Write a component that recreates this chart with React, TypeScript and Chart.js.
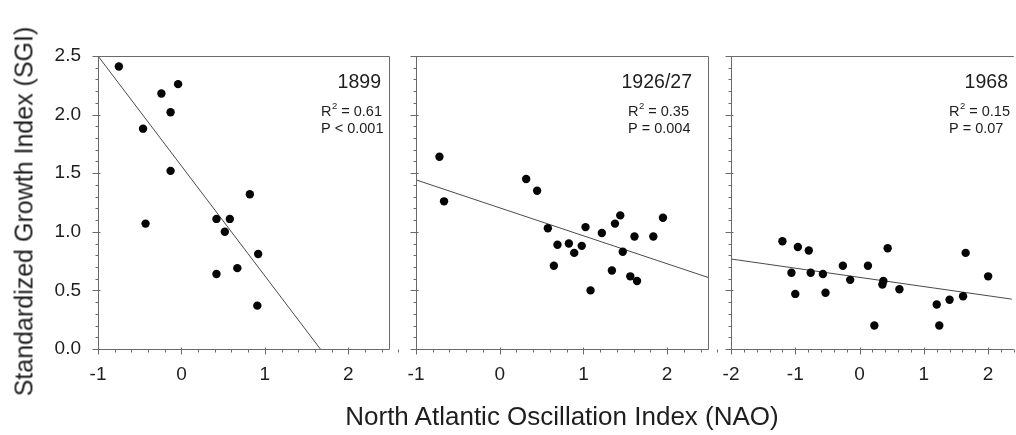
import React, { useEffect, useRef } from "react";
import { Chart, registerables } from "chart.js";

Chart.register(...registerables);

// ---------- data ----------
const Y_TICKS = [0, 0.5, 1.0, 1.5, 2.0, 2.5];
const X_TICKS_AB = [-1, 0, 1, 2];
const X_TICKS_C = [-2, -1, 0, 1, 2];

const NAO_1899 = [-0.75, -0.04, -0.24, -0.13, -0.46, -0.13, -0.43, 0.82, 0.42, 0.58, 0.52, 0.92, 0.67, 0.42, 0.91];
const SGI_1899 = [2.41, 2.26, 2.18, 2.02, 1.88, 1.52, 1.07, 1.32, 1.11, 1.11, 1.0, 0.81, 0.69, 0.64, 0.37];
const FIT_1899_X = [-1, 1.665];
const FIT_1899_Y = [2.5, 0];

const NAO_1926 = [-0.72, -0.665, 0.316, 0.447, 0.575, 0.69, 0.647, 0.826, 0.89, 0.98, 1.025, 1.085, 1.22, 1.377, 1.44, 1.47, 1.34, 1.56, 1.64, 1.61, 1.835, 1.95];
const SGI_1926 = [1.64, 1.26, 1.45, 1.35, 1.03, 0.89, 0.71, 0.9, 0.82, 0.88, 1.04, 0.5, 0.99, 1.07, 1.14, 0.83, 0.67, 0.62, 0.58, 0.96, 0.96, 1.12];
const FIT_1926_X = [-1, 2.5];
const FIT_1926_Y = [1.443, 0.608];

const NAO_1968 = [-1.2, -0.96, -0.79, -1.06, -1.0, -0.76, -0.57, -0.53, -0.26, -0.146, 0.13, 0.23, 0.37, 0.355, 0.437, 0.62, 1.2, 1.24, 1.4, 1.61, 1.65, 2.0];
const SGI_1968 = [0.92, 0.87, 0.84, 0.65, 0.47, 0.65, 0.64, 0.48, 0.71, 0.59, 0.71, 0.2, 0.58, 0.55, 0.86, 0.51, 0.38, 0.2, 0.42, 0.45, 0.82, 0.62];
const FIT_1968_X = [-2, 2.5];
const FIT_1968_Y = [0.768, 0.415];

const YEAR_LABELS = ["1899", "1926/27", "1968"];
const R2_VALUES = ["0.61", "0.35", "0.15"];
const P_LABELS = ["P < 0.001", "P = 0.004", "P = 0.07"];
const Y_TITLE = "Standardized Growth Index (SGI)";
const X_TITLE = "North Atlantic Oscillation Index (NAO)";

// ---------- layout / style ----------
const W = 1016;
const H = 435;
const TOP = 56;
const BOTTOM = 349;
const Y_AXIS_W = 60;
const X_AXIS_H = 50;
const FONT = "'Liberation Sans', Arial, sans-serif";
const FRAME = "#6a6a6a";
const TEXT = "#1e1e1e";

type Panel = {
  left: number;
  right: number;
  xMin: number;
  xMax: number;
  xTicks: number[];
  nao: number[];
  sgi: number[];
  fitX: number[];
  fitY: number[];
  showYLabels: boolean;
  drawRight: boolean;
  yearRight: number;
  statsLeft: number;
  idx: number;
};

const PANELS: Panel[] = [
  { left: 98, right: 390, xMin: -1, xMax: 2.5, xTicks: X_TICKS_AB, nao: NAO_1899, sgi: SGI_1899, fitX: FIT_1899_X, fitY: FIT_1899_Y, showYLabels: true, drawRight: true, yearRight: 381, statsLeft: 321, idx: 0 },
  { left: 416, right: 709, xMin: -1, xMax: 2.5, xTicks: X_TICKS_AB, nao: NAO_1926, sgi: SGI_1926, fitX: FIT_1926_X, fitY: FIT_1926_Y, showYLabels: false, drawRight: true, yearRight: 692, statsLeft: 628, idx: 1 },
  { left: 731, right: 1016, xMin: -2, xMax: 2.368, xTicks: X_TICKS_C, nao: NAO_1968, sgi: SGI_1968, fitX: FIT_1968_X, fitY: FIT_1968_Y, showYLabels: false, drawRight: false, yearRight: 1008, statsLeft: 949, idx: 2 },
];

const framePlugin = {
  id: "frameTicks",
  afterDatasetsDraw(chart: any, _args: any, opts: any) {
    const p: Panel = opts.panel;
    const ctx = chart.ctx;
    const xs = chart.scales.x;
    const ys = chart.scales.y;
    const { left, right, top, bottom } = chart.chartArea;
    const L = Math.round(left) + 0.5;
    const R = Math.round(right) - 0.5;
    const T = Math.round(top) + 0.5;
    const B = Math.round(bottom) + 0.5;
    ctx.save();
    ctx.strokeStyle = FRAME;
    ctx.lineWidth = 1;
    ctx.beginPath();
    ctx.moveTo(L, B);
    ctx.lineTo(L, T);
    ctx.lineTo(p.drawRight ? R : right + 2, T);
    if (p.drawRight) {
      ctx.lineTo(R, B);
    }
    ctx.moveTo(L, B);
    ctx.lineTo(p.drawRight ? R : right + 2, B);
    // x ticks
    const nX = Math.round((p.xMax - p.xMin) / 0.2 + 1e-6);
    for (let i = 0; i <= nX; i++) {
      const v = p.xMin + i * 0.2;
      const major = Math.abs(v - Math.round(v)) < 1e-6;
      const px = Math.round(xs.getPixelForValue(v)) + 0.5;
      ctx.moveTo(px, B + (major ? -2 : 0));
      ctx.lineTo(px, B + (major ? 5 : 3));
    }
    // y ticks
    for (let i = 0; i <= 25; i++) {
      const v = i * 0.1;
      const major = i % 5 === 0;
      const py = Math.round(ys.getPixelForValue(v)) + 0.5;
      ctx.moveTo(L + (major ? 2 : 0), py);
      ctx.lineTo(L - (major ? 6 : 3), py);
    }
    ctx.stroke();

    // annotations
    ctx.fillStyle = TEXT;
    ctx.textBaseline = "alphabetic";
    ctx.font = `19.5px ${FONT}`;
    ctx.textAlign = "right";
    ctx.fillText(YEAR_LABELS[p.idx], p.yearRight, 88);

    ctx.textAlign = "left";
    ctx.font = `14.5px ${FONT}`;
    let x = p.statsLeft;
    ctx.fillText("R", x, 116);
    x += ctx.measureText("R").width;
    ctx.font = `9.5px ${FONT}`;
    ctx.fillText("2", x + 0.5, 109);
    x += ctx.measureText("2").width + 0.5;
    ctx.font = `14.5px ${FONT}`;
    ctx.fillText(" = " + R2_VALUES[p.idx], x, 116);
    ctx.fillText(P_LABELS[p.idx], p.statsLeft, 133);
    ctx.restore();
  },
};

function PanelChart({ panel }: { panel: Panel }) {
  const ref = useRef<HTMLCanvasElement | null>(null);
  useEffect(() => {
    if (!ref.current) return;
    const points = panel.nao.map((x, i) => ({ x, y: panel.sgi[i] }));
    const fit = panel.fitX.map((x, i) => ({ x, y: panel.fitY[i] }));
    const chart = new Chart(ref.current, {
      type: "scatter",
      data: {
        datasets: [
          {
            data: points,
            backgroundColor: "#050505",
            borderWidth: 0,
            pointRadius: 4.2,
            pointHoverRadius: 4.2,
          },
          {
            data: fit,
            showLine: true,
            borderColor: "#4a4a4a",
            borderWidth: 1,
            pointRadius: 0,
            pointHoverRadius: 0,
            fill: false,
          } as any,
        ],
      },
      options: {
        animation: false,
        responsive: false,
        devicePixelRatio: 1,
        events: [],
        layout: {
          padding: {
            left: panel.left - Y_AXIS_W,
            right: W - panel.right,
            top: TOP,
            bottom: H - BOTTOM - X_AXIS_H,
          },
        },
        plugins: {
          legend: { display: false },
          tooltip: { enabled: false },
          title: { display: false },
          frameTicks: { panel },
        } as any,
        scales: {
          x: {
            type: "linear",
            min: panel.xMin,
            max: panel.xMax,
            afterBuildTicks: (s: any) => {
              s.ticks = panel.xTicks.map((v) => ({ value: v }));
            },
            afterFit: (s: any) => {
              s.height = X_AXIS_H;
            },
            grid: { display: false, drawTicks: false },
            border: { display: false },
            ticks: {
              font: { family: FONT, size: 19 },
              color: TEXT,
              padding: 14,
              maxRotation: 0,
              autoSkip: false,
              callback: (v: any) => String(v),
            },
          },
          y: {
            type: "linear",
            min: 0,
            max: 2.5,
            afterBuildTicks: (s: any) => {
              s.ticks = Y_TICKS.map((v) => ({ value: v }));
            },
            afterFit: (s: any) => {
              s.width = Y_AXIS_W;
            },
            grid: { display: false, drawTicks: false },
            border: { display: false },
            ticks: {
              display: panel.showYLabels,
              font: { family: FONT, size: 19 },
              color: TEXT,
              padding: 17,
              autoSkip: false,
              callback: (v: any) => Number(v).toFixed(1),
            },
          },
        },
      },
      plugins: [framePlugin],
    });
    return () => chart.destroy();
  }, [panel]);
  return (
    <canvas
      ref={ref}
      width={W}
      height={H}
      style={{ position: "absolute", left: 0, top: 0, width: W, height: H }}
    />
  );
}

export default function App() {
  return (
    <div
      style={{
        position: "fixed",
        left: 0,
        top: 0,
        width: W,
        height: H,
        background: "#fff",
        overflow: "hidden",
        fontFamily: FONT,
        color: TEXT,
      }}
    >
      {PANELS.map((p) => (
        <PanelChart key={p.idx} panel={p} />
      ))}
      <div
        style={{
          position: "absolute",
          left: 24 - 200,
          top: 211 - 12.5,
          width: 400,
          height: 25,
          lineHeight: "25px",
          fontSize: 25,
          textAlign: "center",
          whiteSpace: "nowrap",
          transform: "rotate(-90deg)",
          transformOrigin: "50% 50%",
        }}
      >
        {Y_TITLE}
      </div>
      <div
        style={{
          position: "absolute",
          left: 562 - 300,
          top: 403,
          width: 600,
          height: 26,
          lineHeight: "26px",
          fontSize: 26,
          textAlign: "center",
          whiteSpace: "nowrap",
        }}
      >
        {X_TITLE}
      </div>
    </div>
  );
}
